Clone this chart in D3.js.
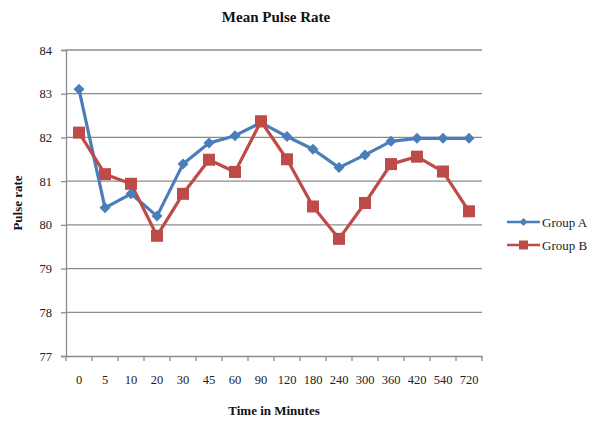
<!DOCTYPE html>
<html><head><meta charset="utf-8">
<script src="https://cdn.jsdelivr.net/npm/d3@7"></script>
<style>body{margin:0;background:#fff}svg{display:block}</style>
</head><body>
<script>
const categories = ["0","5","10","20","30","45","60","90","120","180","240","300","360","420","540","720"];
const groupA = [83.10,80.39,80.71,80.20,81.39,81.87,82.04,82.34,82.02,81.73,81.31,81.60,81.91,81.98,81.98,81.98];
const groupB = [82.11,81.16,80.94,79.75,80.71,81.49,81.21,82.37,81.50,80.42,79.68,80.50,81.39,81.56,81.22,80.31];
const yTicks = [77,78,79,80,81,82,83,84];
const seriesNames = ["Group A","Group B"];

const W=595,H=421;
const m={l:66,r:113,t:50,b:65};
const svg=d3.select("body").append("svg").attr("width",W).attr("height",H);
const x=d3.scaleBand().domain(categories).range([m.l,W-m.r]);
const y=d3.scaleLinear().domain([77,84]).range([H-m.b,m.t]);
const font="'Liberation Serif', 'DejaVu Serif', serif";
const grid="#8c8c8c";

// gridlines
svg.append("g").selectAll("line").data(yTicks.filter(d=>d>77)).join("line")
  .attr("x1",m.l).attr("x2",W-m.r).attr("y1",d=>y(d)).attr("y2",d=>y(d))
  .attr("stroke",grid).attr("stroke-width",1.3);

// y axis
const ya=svg.append("g").attr("transform",`translate(${m.l},0)`)
  .call(d3.axisLeft(y).tickValues(yTicks).tickSize(5).tickPadding(9).tickFormat(d3.format("d")));
ya.select(".domain").attr("stroke",grid).attr("stroke-width",1.3);
ya.selectAll(".tick line").attr("stroke",grid).attr("stroke-width",1.3);
ya.selectAll("text").attr("font-family",font).attr("font-size",12.5).attr("fill","#222");

// x axis
const xa=svg.append("g").attr("transform",`translate(0,${H-m.b})`)
  .call(d3.axisBottom(x).tickSize(0).tickPadding(19));
xa.select(".domain").attr("stroke",grid).attr("stroke-width",1.3);
xa.selectAll("text").attr("font-family",font).attr("font-size",12.5).attr("fill","#222");
// boundary ticks
const bounds=categories.map(c=>x(c)).concat([x(categories[categories.length-1])+x.bandwidth()]);
svg.append("g").selectAll("line").data(bounds).join("line")
  .attr("x1",d=>d).attr("x2",d=>d).attr("y1",H-m.b).attr("y2",H-m.b+5)
  .attr("stroke",grid).attr("stroke-width",1.3);

const cx=c=>x(c)+x.bandwidth()/2;
const line=d3.line().x((d,i)=>cx(categories[i])).y(d=>y(d));
const colA="#4a7ebb", colB="#be4b48";

svg.append("path").datum(groupA).attr("d",line).attr("fill","none").attr("stroke",colA).attr("stroke-width",3.2).attr("stroke-linejoin","round");
svg.append("path").datum(groupB).attr("d",line).attr("fill","none").attr("stroke",colB).attr("stroke-width",3.2).attr("stroke-linejoin","round");

function diamondPath(s){return `M0,${-s}L${s},0L0,${s}L${-s},0Z`;}
svg.append("g").selectAll("path").data(groupA).join("path")
  .attr("d",diamondPath(5.5)).attr("transform",(d,i)=>`translate(${cx(categories[i])},${y(d)})`)
  .attr("fill",colA);
svg.append("g").selectAll("rect").data(groupB).join("rect")
  .attr("x",(d,i)=>cx(categories[i])-6).attr("y",d=>y(d)-6).attr("width",12).attr("height",12)
  .attr("fill",colB);

// legend
const lg=svg.append("g");
[[colA,"A"],[colB,"B"]].forEach(([c,k],i)=>{
  const ly=222+i*23;
  lg.append("line").attr("x1",507).attr("x2",540).attr("y1",ly).attr("y2",ly).attr("stroke",c).attr("stroke-width",2.5);
  if(k==="A") lg.append("path").attr("d",diamondPath(4)).attr("transform",`translate(523.5,${ly})`).attr("fill",c);
  else lg.append("rect").attr("x",519).attr("y",ly-4.5).attr("width",9).attr("height",9).attr("fill",c);
  lg.append("text").attr("x",542).attr("y",ly+4.5).text(seriesNames[i])
    .attr("font-family",font).attr("font-size",13).attr("fill","#222");
});

// titles
svg.append("text").attr("x",276).attr("y",22).attr("text-anchor","middle").text("Mean Pulse Rate")
  .attr("font-family",font).attr("font-weight","bold").attr("font-size",15).attr("fill","#111");
svg.append("text").attr("x",274).attr("y",415).attr("text-anchor","middle").text("Time in Minutes")
  .attr("font-family",font).attr("font-weight","bold").attr("font-size",13).attr("fill","#111");
svg.append("text").attr("transform","translate(22,203) rotate(-90)").attr("text-anchor","middle").text("Pulse rate")
  .attr("font-family",font).attr("font-weight","bold").attr("font-size",13).attr("fill","#111");
</script>
</body></html>
